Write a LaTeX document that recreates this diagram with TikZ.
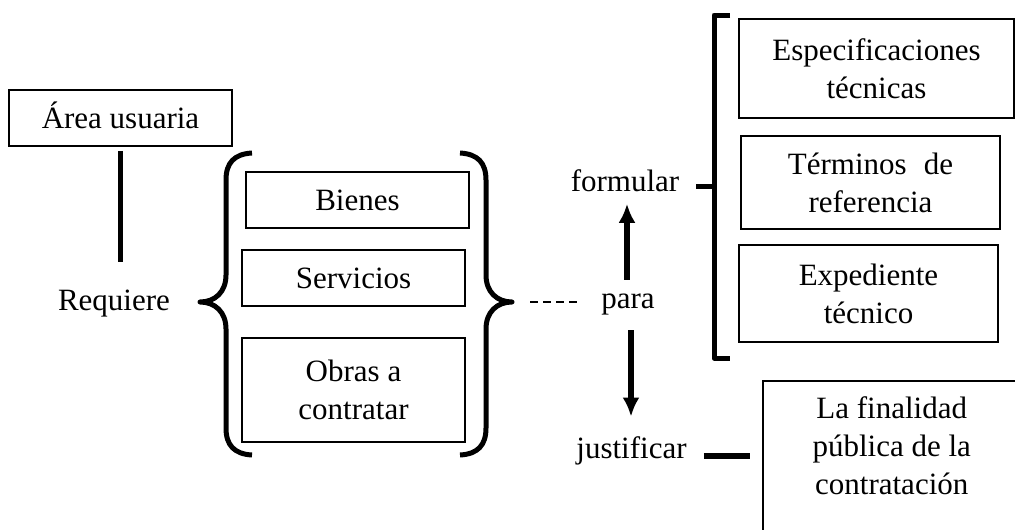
\documentclass[tikz,border=0pt]{standalone}
\usepackage{fontspec}
\setmainfont{Liberation Serif}
\usetikzlibrary{arrows.meta}
\tikzset{ %inner sep = 0mm,
  >={Latex[length=19pt,width=17pt]},
  every node/.style ={font=\fontsize{31}{38}\selectfont},
  {box/.style} ={rectangle, draw, line width=1.5pt, align=center,
                 inner sep=0},
  {stem/.style} ={draw, line width=5.5pt},
  {brace line/.style} ={draw, line width=5pt, line join=round},
  {dash line/.style} ={draw, line width=1.5pt, dash pattern=on 8pt off 5pt},
}

\begin{document}
\begin{tikzpicture}[x=1pt,y=-1pt]
\useasboundingbox (0,0) rectangle (1015,530);

\tikzstyle{word} = [inner sep=2pt]

% left column
\node[box, minimum width=223pt, minimum height=56pt, text height=22pt] (area) at (120.5,118) {Área usuaria};
\node[word] (req) at (114,304) {Requiere};
\draw[stem, shorten <=4pt, shorten >=26pt] (area.south) -- (area.south |- req.north);

% bienes, servicios, obras
\node[box, minimum width=223pt, minimum height=56pt] (bienes) at (357.5,200) {Bienes};
\node[box, minimum width=223pt, minimum height=56pt] (serv) at (353.5,278) {Servicios};
\node[box, minimum width=223pt, minimum height=104pt] (obras) at (353.5,390) {Obras a\\contratar};

\coordinate (ltip) at (200,302);
\coordinate (rtip) at (512,302);
\draw[brace line] (252,153) .. controls (234,154) and (226,163) .. (226,180) -- (226,275)
  .. controls (226,292) and (215,302) .. (ltip) .. controls (215,302) and (226,312) .. (226,329)
  -- (226,428) .. controls (226,445) and (234,454) .. (252,455);
\draw[brace line] (460,153) .. controls (478,154) and (486,163) .. (486,180) -- (486,275)
  .. controls (486,292) and (497,302) .. (rtip) .. controls (497,302) and (486,312) .. (486,329)
  -- (486,428) .. controls (486,445) and (478,454) .. (460,455);

% middle column
\node[word] (para) at (628,304) {para};
\node[word] (formular) at (625,181) {formular};
\node[word] (justif) at (631.5,451) {justificar};
\draw[dash line, shorten <=18pt, shorten >=20pt] (rtip) -- (rtip -| para.west);
\draw[stem, ->, shorten <=11.5pt, shorten >=9.5pt] ([xshift=-1pt]para.north) -- ([xshift=-1pt]para.north |- formular.south);
\draw[stem, ->, shorten <=13.5pt, shorten >=18pt] ([xshift=3pt]para.south) -- ([xshift=3pt]para.south |- justif.north);

% right column
\node[box, minimum width=275pt, minimum height=99pt] (espec) at (876.5,68.5) {Especificaciones\\técnicas};
\node[box, minimum width=259pt, minimum height=93pt] (term) at (870.5,182.5) {Términos\hspace{.3em} de\\referencia};
\node[box, minimum width=259pt, minimum height=97pt] (exped) at (868.5,293.5) {Expediente\\técnico};
\node[box, minimum width=258pt, minimum height=170pt, anchor=north west] (final) at (762,380) {};
\node[word, align=center, anchor=north] (finaltxt) at ([yshift=-14pt]final.north) {La finalidad\\pública de la\\contratación};

\coordinate (brk) at (714,186);
\draw[brace line] (730,15) -- (714,15) -- (714,358) -- (730,358);
\draw[brace line, shorten <=15pt] ([yshift=-5pt]formular.east) -- ([yshift=-5pt]formular.east -| brk);
\draw[stem, shorten <=15pt, shorten >=12pt] ([yshift=-5pt]justif.east) -- ([yshift=-5pt]justif.east -| final.west);
\end{tikzpicture}
\end{document}
